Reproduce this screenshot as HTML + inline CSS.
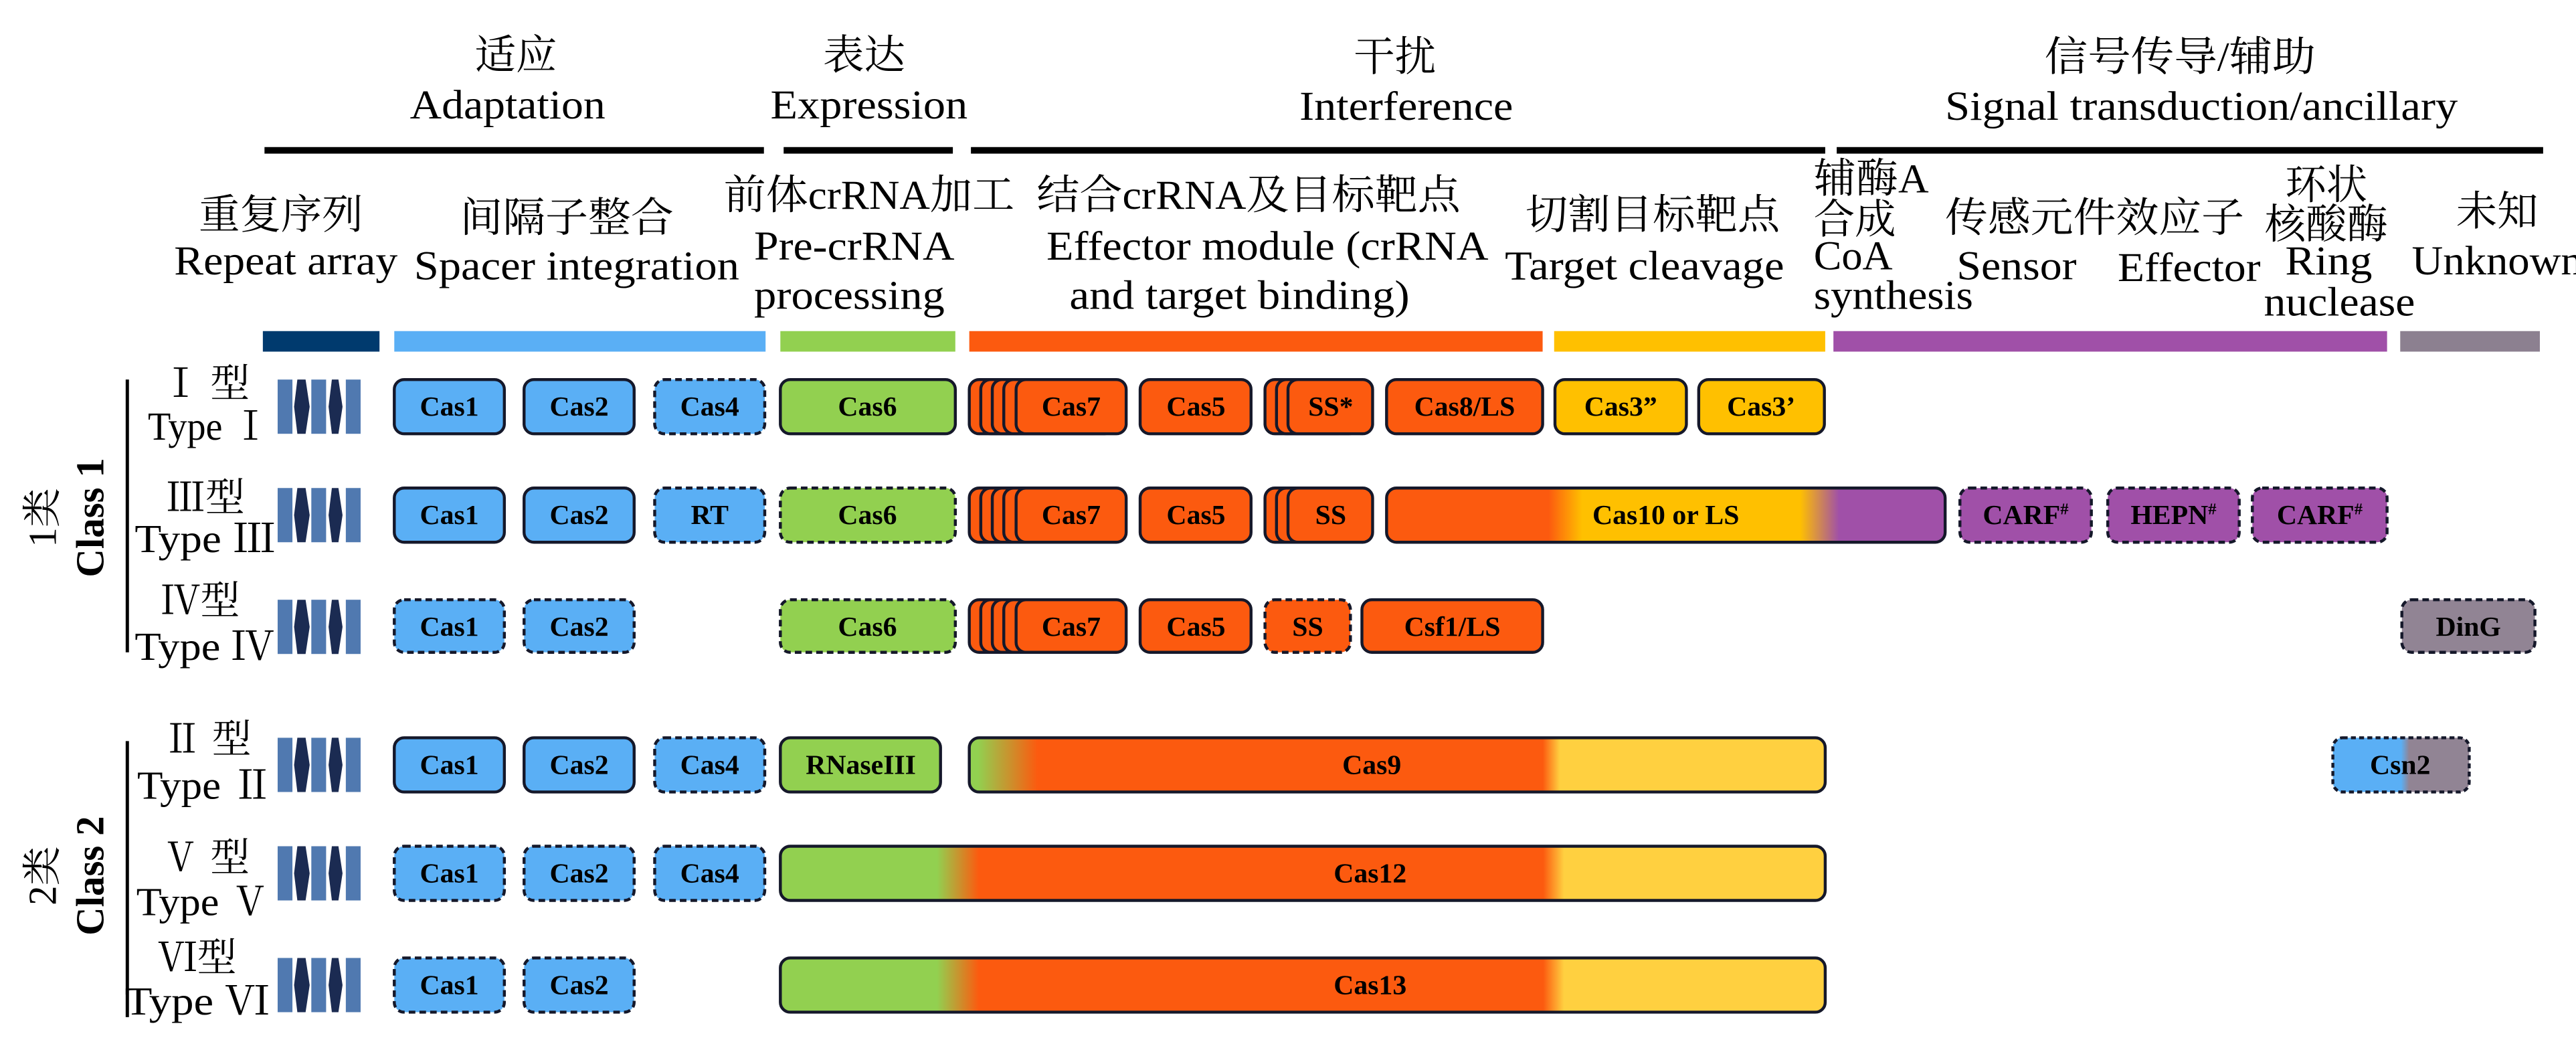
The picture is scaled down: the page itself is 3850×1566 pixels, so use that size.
<!DOCTYPE html>
<html><head><meta charset="utf-8"><style>
html,body{margin:0;padding:0;background:#fff;}
svg{display:block;}
text{font-family:"Liberation Serif","Noto Serif CJK SC",serif;fill:#000;}
.h{font-size:25px;}
.b{font-size:17px;font-weight:bold;text-anchor:middle;}
.t{font-size:24px;}
</style></head><body>
<svg width="3850" height="1566" viewBox="0 0 1568 637.8" preserveAspectRatio="none" xmlns="http://www.w3.org/2000/svg">
<defs>
<linearGradient id="g10"><stop offset="0" stop-color="#fc5a0f"/><stop offset="0.29" stop-color="#fc5a0f"/><stop offset="0.35" stop-color="#ffc000"/><stop offset="0.74" stop-color="#ffc000"/><stop offset="0.81" stop-color="#a050a8"/><stop offset="1" stop-color="#a050a8"/></linearGradient>
<linearGradient id="g9"><stop offset="0" stop-color="#92d050"/><stop offset="0.01" stop-color="#92d050"/><stop offset="0.08" stop-color="#fc5a0f"/><stop offset="0.67" stop-color="#fc5a0f"/><stop offset="0.69" stop-color="#ffd040"/><stop offset="1" stop-color="#ffd040"/></linearGradient>
<linearGradient id="g12"><stop offset="0" stop-color="#92d050"/><stop offset="0.15" stop-color="#92d050"/><stop offset="0.19" stop-color="#fc5a0f"/><stop offset="0.73" stop-color="#fc5a0f"/><stop offset="0.75" stop-color="#ffd040"/><stop offset="1" stop-color="#ffd040"/></linearGradient>
<linearGradient id="gc"><stop offset="0" stop-color="#5aaff5"/><stop offset="0.5" stop-color="#5aaff5"/><stop offset="0.56" stop-color="#918494"/><stop offset="1" stop-color="#918494"/></linearGradient>
<g id="rep">
<rect x="169" y="0" width="9" height="33" fill="#5079b0"/>
<rect x="189.5" y="0" width="9" height="33" fill="#5079b0"/>
<rect x="210.5" y="0" width="9" height="33" fill="#5079b0"/>
<polygon points="181,0 186,0 188.5,16.5 186,33 181,33 179,16.5" fill="#1b2b52"/>
<polygon points="202,0 206,0 208.5,16.5 206,33 202,33 200,16.5" fill="#1b2b52"/>
</g>
</defs>

<!-- top headers -->
<text class="h" x="314" y="42" text-anchor="middle">适应</text>
<text class="h" x="309" y="72" text-anchor="middle" textLength="119" lengthAdjust="spacingAndGlyphs">Adaptation</text>
<text class="h" x="526" y="42" text-anchor="middle">表达</text>
<text class="h" x="529" y="72" text-anchor="middle" textLength="120" lengthAdjust="spacingAndGlyphs">Expression</text>
<text class="h" x="849" y="43" text-anchor="middle">干扰</text>
<text class="h" x="856" y="73" text-anchor="middle" textLength="130" lengthAdjust="spacingAndGlyphs">Interference</text>
<text class="h" x="1327" y="43" text-anchor="middle" textLength="165" lengthAdjust="spacingAndGlyphs">信号传导/辅助</text>
<text class="h" x="1340" y="73" text-anchor="middle" textLength="312" lengthAdjust="spacingAndGlyphs">Signal transduction/ancillary</text>
<g fill="#000">
<rect x="161" y="89.5" width="304" height="4"/>
<rect x="477" y="89.5" width="103" height="4"/>
<rect x="591" y="89.5" width="520" height="4"/>
<rect x="1118" y="89.5" width="430" height="4"/>
</g>

<!-- second headers -->
<text class="h" x="171" y="139" text-anchor="middle">重复序列</text>
<text class="h" x="174" y="167" text-anchor="middle" textLength="136" lengthAdjust="spacingAndGlyphs">Repeat array</text>
<text class="h" x="345" y="141" text-anchor="middle" textLength="130" lengthAdjust="spacingAndGlyphs">间隔子整合</text>
<text class="h" x="351" y="170" text-anchor="middle" textLength="198" lengthAdjust="spacingAndGlyphs">Spacer integration</text>
<text class="h" x="529" y="127" text-anchor="middle" textLength="177" lengthAdjust="spacingAndGlyphs">前体crRNA加工</text>
<text class="h" x="459" y="158" textLength="122" lengthAdjust="spacingAndGlyphs">Pre-crRNA</text>
<text class="h" x="459" y="188" textLength="116" lengthAdjust="spacingAndGlyphs">processing</text>
<text class="h" x="631" y="127" textLength="258" lengthAdjust="spacingAndGlyphs">结合crRNA及目标靶点</text>
<text class="h" x="637" y="158" textLength="269" lengthAdjust="spacingAndGlyphs">Effector module (crRNA</text>
<text class="h" x="651" y="188" textLength="207" lengthAdjust="spacingAndGlyphs">and target binding)</text>
<text class="h" x="1006" y="139" text-anchor="middle" textLength="155" lengthAdjust="spacingAndGlyphs">切割目标靶点</text>
<text class="h" x="1001" y="170" text-anchor="middle" textLength="170" lengthAdjust="spacingAndGlyphs">Target cleavage</text>
<text class="h" x="1104" y="117" textLength="70" lengthAdjust="spacingAndGlyphs">辅酶A</text>
<text class="h" x="1104" y="142">合成</text>
<text class="h" x="1104" y="164" textLength="48" lengthAdjust="spacingAndGlyphs">CoA</text>
<text class="h" x="1104" y="188" textLength="97" lengthAdjust="spacingAndGlyphs">synthesis</text>
<text class="h" x="1184" y="141" textLength="182" lengthAdjust="spacingAndGlyphs">传感元件效应子</text>
<text class="h" x="1191" y="170" textLength="73" lengthAdjust="spacingAndGlyphs">Sensor</text>
<text class="h" x="1289" y="171" textLength="87" lengthAdjust="spacingAndGlyphs">Effector</text>
<text class="h" x="1416" y="121" text-anchor="middle">环状</text>
<text class="h" x="1416" y="145" text-anchor="middle" textLength="75" lengthAdjust="spacingAndGlyphs">核酸酶</text>
<text class="h" x="1391" y="167" textLength="53" lengthAdjust="spacingAndGlyphs">Ring</text>
<text class="h" x="1378" y="192" textLength="92" lengthAdjust="spacingAndGlyphs">nuclease</text>
<text class="h" x="1520" y="137" text-anchor="middle">未知</text>
<text class="h" x="1468" y="167" textLength="104" lengthAdjust="spacingAndGlyphs">Unknown</text>

<!-- color bars -->
<rect x="160" y="201.5" width="71" height="12.5" fill="#003a6e"/>
<rect x="240" y="201.5" width="226" height="12.5" fill="#5aaff5"/>
<rect x="475" y="201.5" width="106.5" height="12.5" fill="#92d050"/>
<rect x="590" y="201.5" width="349" height="12.5" fill="#fc5a0f"/>
<rect x="946" y="201.5" width="165" height="12.5" fill="#ffc000"/>
<rect x="1116" y="201.5" width="337" height="12.5" fill="#a050a8"/>
<rect x="1461" y="201.5" width="85" height="12.5" fill="#8c8090"/>

<!-- class labels -->
<line x1="77.5" y1="231" x2="77.5" y2="397" stroke="#000" stroke-width="2"/>
<line x1="77.5" y1="451" x2="77.5" y2="619" stroke="#000" stroke-width="2"/>
<text class="t" transform="translate(34,315) rotate(-90)" text-anchor="middle">1类</text>
<text class="t" transform="translate(63,315) rotate(-90)" text-anchor="middle" font-weight="bold">Class 1</text>
<text class="t" transform="translate(34,533) rotate(-90)" text-anchor="middle">2类</text>
<text class="t" transform="translate(63,533) rotate(-90)" text-anchor="middle" font-weight="bold">Class 2</text>

<!-- type labels -->
<text class="t" x="125" y="241.6" text-anchor="middle">Ⅰ 型</text>
<text class="t" x="127" y="267.6" text-anchor="middle" textLength="74" lengthAdjust="spacingAndGlyphs">Type  Ⅰ</text>
<text class="t" x="125" y="311" text-anchor="middle">Ⅲ型</text>
<text class="t" x="125" y="336" text-anchor="middle" textLength="86" lengthAdjust="spacingAndGlyphs">Type Ⅲ</text>
<text class="t" x="122" y="373.6" text-anchor="middle">Ⅳ型</text>
<text class="t" x="124.5" y="401.5" text-anchor="middle" textLength="85" lengthAdjust="spacingAndGlyphs">Type Ⅳ</text>
<text class="t" x="126" y="458" text-anchor="middle">Ⅱ 型</text>
<text class="t" x="125" y="486" text-anchor="middle" textLength="83" lengthAdjust="spacingAndGlyphs">Type  Ⅱ</text>
<text class="t" x="125" y="530" text-anchor="middle">Ⅴ 型</text>
<text class="t" x="124" y="557" text-anchor="middle" textLength="82" lengthAdjust="spacingAndGlyphs">Type  Ⅴ</text>
<text class="t" x="120" y="591" text-anchor="middle">Ⅵ型</text>
<text class="t" x="120" y="617.5" text-anchor="middle" textLength="88" lengthAdjust="spacingAndGlyphs">Type Ⅵ</text>

<!-- repeat arrays -->
<use href="#rep" transform="translate(0,231)"/>
<use href="#rep" transform="translate(0,297)"/>
<use href="#rep" transform="translate(0,365)"/>
<use href="#rep" transform="translate(0,449)"/>
<use href="#rep" transform="translate(0,515)"/>
<use href="#rep" transform="translate(0,583)"/>

<g stroke="#15182a" stroke-width="1.8">
<!-- Row 1 -->
<rect x="240" y="231" width="67" height="33" rx="6" fill="#5aaff5"/>
<rect x="319" y="231" width="67" height="33" rx="6" fill="#5aaff5"/>
<rect x="398.5" y="231" width="67" height="33" rx="6" fill="#5aaff5" stroke-dasharray="4 2.5"/>
<rect x="475" y="231" width="106.5" height="33" rx="6" fill="#92d050"/>
<rect x="590" y="231" width="67" height="33" rx="6" fill="#fc5a0f"/>
<rect x="597" y="231" width="67" height="33" rx="6" fill="#fc5a0f"/>
<rect x="604" y="231" width="67" height="33" rx="6" fill="#fc5a0f"/>
<rect x="611" y="231" width="67" height="33" rx="6" fill="#fc5a0f"/>
<rect x="618.5" y="231" width="67" height="33" rx="6" fill="#fc5a0f"/>
<rect x="694" y="231" width="67.5" height="33" rx="6" fill="#fc5a0f"/>
<rect x="770" y="231" width="50" height="33" rx="6" fill="#fc5a0f"/>
<rect x="777" y="231" width="50" height="33" rx="6" fill="#fc5a0f"/>
<rect x="784" y="231" width="51.5" height="33" rx="6" fill="#fc5a0f"/>
<rect x="844" y="231" width="95" height="33" rx="6" fill="#fc5a0f"/>
<rect x="946.5" y="231" width="80" height="33" rx="6" fill="#ffc000"/>
<rect x="1034" y="231" width="76.5" height="33" rx="6" fill="#ffc000"/>
<!-- Row 2 -->
<rect x="240" y="297" width="67" height="33" rx="6" fill="#5aaff5"/>
<rect x="319" y="297" width="67" height="33" rx="6" fill="#5aaff5"/>
<rect x="398.5" y="297" width="67" height="33" rx="6" fill="#5aaff5" stroke-dasharray="4 2.5"/>
<rect x="475" y="297" width="106.5" height="33" rx="6" fill="#92d050" stroke-dasharray="4 2.5"/>
<rect x="590" y="297" width="67" height="33" rx="6" fill="#fc5a0f"/>
<rect x="597" y="297" width="67" height="33" rx="6" fill="#fc5a0f"/>
<rect x="604" y="297" width="67" height="33" rx="6" fill="#fc5a0f"/>
<rect x="611" y="297" width="67" height="33" rx="6" fill="#fc5a0f"/>
<rect x="618.5" y="297" width="67" height="33" rx="6" fill="#fc5a0f"/>
<rect x="694" y="297" width="67.5" height="33" rx="6" fill="#fc5a0f"/>
<rect x="770" y="297" width="50" height="33" rx="6" fill="#fc5a0f"/>
<rect x="777" y="297" width="50" height="33" rx="6" fill="#fc5a0f"/>
<rect x="784" y="297" width="51.5" height="33" rx="6" fill="#fc5a0f"/>
<rect x="844" y="297" width="340" height="33" rx="6" fill="url(#g10)"/>
<rect x="1193" y="297" width="80" height="33" rx="6" fill="#a050a8" stroke-dasharray="4 2.5"/>
<rect x="1283" y="297" width="80" height="33" rx="6" fill="#a050a8" stroke-dasharray="4 2.5"/>
<rect x="1371" y="297" width="82" height="33" rx="6" fill="#a050a8" stroke-dasharray="4 2.5"/>
<!-- Row 3 -->
<rect x="240" y="365" width="67" height="32" rx="6" fill="#5aaff5" stroke-dasharray="4 2.5"/>
<rect x="319" y="365" width="67" height="32" rx="6" fill="#5aaff5" stroke-dasharray="4 2.5"/>
<rect x="475" y="365" width="106.5" height="32" rx="6" fill="#92d050" stroke-dasharray="4 2.5"/>
<rect x="590" y="365" width="67" height="32" rx="6" fill="#fc5a0f"/>
<rect x="597" y="365" width="67" height="32" rx="6" fill="#fc5a0f"/>
<rect x="604" y="365" width="67" height="32" rx="6" fill="#fc5a0f"/>
<rect x="611" y="365" width="67" height="32" rx="6" fill="#fc5a0f"/>
<rect x="618.5" y="365" width="67" height="32" rx="6" fill="#fc5a0f"/>
<rect x="694" y="365" width="67.5" height="32" rx="6" fill="#fc5a0f"/>
<rect x="770" y="365" width="52" height="32" rx="6" fill="#fc5a0f" stroke-dasharray="4 2.5"/>
<rect x="829" y="365" width="110" height="32" rx="6" fill="#fc5a0f"/>
<rect x="1462" y="365" width="81" height="32" rx="6" fill="#918494" stroke-dasharray="4 2.5"/>
<!-- Row 4 -->
<rect x="240" y="449" width="67" height="33" rx="6" fill="#5aaff5"/>
<rect x="319" y="449" width="67" height="33" rx="6" fill="#5aaff5"/>
<rect x="398.5" y="449" width="67" height="33" rx="6" fill="#5aaff5" stroke-dasharray="4 2.5"/>
<rect x="475" y="449" width="97.5" height="33" rx="6" fill="#92d050"/>
<rect x="590" y="449" width="521" height="33" rx="6" fill="url(#g9)"/>
<rect x="1420" y="449" width="83" height="33" rx="6" fill="url(#gc)" stroke-dasharray="3 2"/>
<!-- Row 5 -->
<rect x="240" y="515" width="67" height="33" rx="6" fill="#5aaff5" stroke-dasharray="4 2.5"/>
<rect x="319" y="515" width="67" height="33" rx="6" fill="#5aaff5" stroke-dasharray="4 2.5"/>
<rect x="398.5" y="515" width="67" height="33" rx="6" fill="#5aaff5" stroke-dasharray="4 2.5"/>
<rect x="475" y="515" width="636" height="33" rx="6" fill="url(#g12)"/>
<!-- Row 6 -->
<rect x="240" y="583" width="67" height="33" rx="6" fill="#5aaff5" stroke-dasharray="4 2.5"/>
<rect x="319" y="583" width="67" height="33" rx="6" fill="#5aaff5" stroke-dasharray="4 2.5"/>
<rect x="475" y="583" width="636" height="33" rx="6" fill="url(#g12)"/>
</g>

<!-- box labels -->
<g class="b">
<text class="b" x="273.5" y="253">Cas1</text><text class="b" x="352.5" y="253">Cas2</text><text class="b" x="432" y="253">Cas4</text>
<text class="b" x="528" y="253">Cas6</text><text class="b" x="652" y="253">Cas7</text><text class="b" x="728" y="253">Cas5</text>
<text class="b" x="810" y="253">SS*</text><text class="b" x="891.5" y="253">Cas8/LS</text><text class="b" x="986.5" y="253">Cas3”</text><text class="b" x="1072" y="253">Cas3’</text>

<text class="b" x="273.5" y="319">Cas1</text><text class="b" x="352.5" y="319">Cas2</text><text class="b" x="432" y="319">RT</text>
<text class="b" x="528" y="319">Cas6</text><text class="b" x="652" y="319">Cas7</text><text class="b" x="728" y="319">Cas5</text>
<text class="b" x="810" y="319">SS</text><text class="b" x="1014" y="319">Cas10 or LS</text>
<text class="b" x="1233" y="319">CARF<tspan font-size="10" dy="-6">#</tspan></text>
<text class="b" x="1323" y="319">HEPN<tspan font-size="10" dy="-6">#</tspan></text>
<text class="b" x="1412" y="319">CARF<tspan font-size="10" dy="-6">#</tspan></text>

<text class="b" x="273.5" y="387">Cas1</text><text class="b" x="352.5" y="387">Cas2</text>
<text class="b" x="528" y="387">Cas6</text><text class="b" x="652" y="387">Cas7</text><text class="b" x="728" y="387">Cas5</text>
<text class="b" x="796" y="387">SS</text><text class="b" x="884" y="387">Csf1/LS</text><text class="b" x="1502.5" y="387">DinG</text>

<text class="b" x="273.5" y="471">Cas1</text><text class="b" x="352.5" y="471">Cas2</text><text class="b" x="432" y="471">Cas4</text>
<text class="b" x="524" y="471">RNaseIII</text><text class="b" x="835" y="471">Cas9</text><text class="b" x="1461" y="471">Csn2</text>

<text class="b" x="273.5" y="537">Cas1</text><text class="b" x="352.5" y="537">Cas2</text><text class="b" x="432" y="537">Cas4</text>
<text class="b" x="834" y="537">Cas12</text>

<text class="b" x="273.5" y="605">Cas1</text><text class="b" x="352.5" y="605">Cas2</text>
<text class="b" x="834" y="605">Cas13</text>
</g>
</svg>
</body></html>
